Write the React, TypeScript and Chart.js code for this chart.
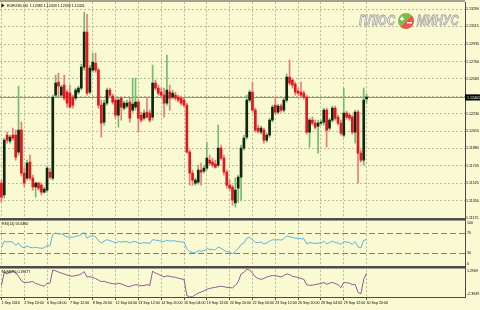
import { useEffect, useRef } from 'react';
import { Chart, registerables } from 'chart.js';

Chart.register(...registerables);

const headerText = 'EURUSD,H4  1.12382 1.12433 1.12339 1.12401';
const timeLabels = ['1 Sep 2016', '2 Sep 20:00', '6 Sep 04:00', '7 Sep 12:00', '8 Sep 20:00', '12 Sep 04:00', '13 Sep 12:00', '14 Sep 20:00', '16 Sep 04:00', '19 Sep 12:00', '20 Sep 20:00', '22 Sep 04:00', '23 Sep 12:00', '26 Sep 20:00', '28 Sep 04:00', '29 Sep 12:00', '30 Sep 20:00'];
const barsPerLabel = 8;
const emptyBarsAfter = 34;

const opens = [
  1.11529, 1.11408, 1.12015, 1.11954, 1.12015, 1.12015, 1.11843, 1.12065, 1.11630, 1.11580,
  1.11742, 1.11580, 1.11489, 1.11529, 1.11509, 1.11438, 1.11458, 1.11640, 1.11580, 1.12420,
  1.12551, 1.12420, 1.12521, 1.12450, 1.12440, 1.12399, 1.12389, 1.12450, 1.12490, 1.12703,
  1.13057, 1.12450, 1.12673, 1.12743, 1.12673, 1.12318, 1.12146, 1.12339, 1.12470, 1.12409,
  1.12369, 1.12217, 1.12389, 1.12288, 1.12308, 1.12349, 1.12268, 1.12298, 1.12349, 1.12217,
  1.12187, 1.12248, 1.12237, 1.12197, 1.12541, 1.12490, 1.12450, 1.12420, 1.12339, 1.12450,
  1.12399, 1.12420, 1.12399, 1.12389, 1.12369, 1.12318, 1.11843, 1.11630, 1.11529, 1.11539,
  1.11661, 1.11650, 1.11681, 1.11762, 1.11742, 1.11721, 1.11711, 1.11883, 1.11782, 1.11640,
  1.11509, 1.11489, 1.11327, 1.11478, 1.11590, 1.11883, 1.11995, 1.12369, 1.12450, 1.12268,
  1.12086, 1.12045, 1.12065, 1.11964, 1.12015, 1.12167, 1.12318, 1.12248, 1.12308, 1.12268,
  1.12369, 1.12602, 1.12571, 1.12531, 1.12460, 1.12450, 1.12440, 1.12399, 1.12045, 1.12167,
  1.12136, 1.12106, 1.12136, 1.12146, 1.12268, 1.12086, 1.12167, 1.12288, 1.12197, 1.12136,
  1.12015, 1.12237, 1.12217, 1.12197, 1.12045, 1.12248, 1.11833, 1.11762, 1.12382,
];
const highs = [
  1.11559, 1.11984, 1.12045, 1.12015, 1.12086, 1.12065, 1.12511, 1.12146, 1.11681, 1.11762,
  1.11812, 1.11610, 1.11539, 1.11539, 1.11529, 1.11489, 1.11701, 1.11681, 1.12420, 1.12622,
  1.12642, 1.12521, 1.12622, 1.12470, 1.12521, 1.12420, 1.12490, 1.12511, 1.12733, 1.13260,
  1.13239, 1.12723, 1.12845, 1.12845, 1.12693, 1.12369, 1.12369, 1.12490, 1.12490, 1.12430,
  1.12399, 1.12399, 1.12399, 1.12359, 1.12369, 1.12389, 1.12592, 1.12592, 1.12369, 1.12248,
  1.12268, 1.12399, 1.12268, 1.12723, 1.12571, 1.12521, 1.12490, 1.12490, 1.12824, 1.12521,
  1.12470, 1.12450, 1.12420, 1.12409, 1.12389, 1.12339, 1.11863, 1.11661, 1.11580, 1.11711,
  1.11731, 1.11711, 1.11944, 1.11812, 1.11782, 1.11762, 1.12116, 1.11914, 1.11812, 1.11661,
  1.11559, 1.11509, 1.11580, 1.11610, 1.11914, 1.12015, 1.12420, 1.12470, 1.12551, 1.12288,
  1.12116, 1.12106, 1.12086, 1.12035, 1.12187, 1.12318, 1.12399, 1.12329, 1.12329, 1.12389,
  1.12632, 1.12774, 1.12592, 1.12551, 1.12490, 1.12551, 1.12460, 1.12420, 1.12187, 1.12197,
  1.12167, 1.12167, 1.12167, 1.12288, 1.12288, 1.12187, 1.12308, 1.12308, 1.12217, 1.12167,
  1.12490, 1.12258, 1.12237, 1.12217, 1.12268, 1.12268, 1.11863, 1.12490, 1.12433,
];
const lows = [
  1.11337, 1.11377, 1.11934, 1.11934, 1.11964, 1.11762, 1.11812, 1.11600, 1.11489, 1.11559,
  1.11559, 1.11458, 1.11387, 1.11458, 1.11408, 1.11428, 1.11438, 1.11570, 1.11559, 1.12399,
  1.12399, 1.12399, 1.12369, 1.12298, 1.12288, 1.12288, 1.12369, 1.12430, 1.12470, 1.12673,
  1.12420, 1.12430, 1.12652, 1.12652, 1.12288, 1.11995, 1.12116, 1.12318, 1.12399, 1.12329,
  1.12187, 1.12096, 1.12167, 1.12268, 1.12288, 1.12146, 1.12248, 1.12268, 1.12045, 1.12146,
  1.12167, 1.12187, 1.12146, 1.12167, 1.12470, 1.12420, 1.12399, 1.12197, 1.12318, 1.12268,
  1.12379, 1.12369, 1.12349, 1.12318, 1.12298, 1.11833, 1.11509, 1.11509, 1.11509, 1.11519,
  1.11509, 1.11630, 1.11661, 1.11711, 1.11691, 1.11681, 1.11691, 1.11762, 1.11610, 1.11478,
  1.11458, 1.11306, 1.11286, 1.11337, 1.11357, 1.11863, 1.11974, 1.12349, 1.12248, 1.12045,
  1.12035, 1.12025, 1.11934, 1.11944, 1.11995, 1.12146, 1.12227, 1.12227, 1.12248, 1.12248,
  1.12349, 1.12521, 1.12490, 1.12420, 1.12420, 1.12399, 1.12379, 1.12025, 1.11893, 1.12116,
  1.12076, 1.11833, 1.12116, 1.12116, 1.11893, 1.12065, 1.12146, 1.12167, 1.12116, 1.12015,
  1.11995, 1.12177, 1.12167, 1.12025, 1.11934, 1.11529, 1.11742, 1.11711, 1.12339,
];
const closes = [
  1.11387, 1.11964, 1.11964, 1.11995, 1.11984, 1.11792, 1.12065, 1.11630, 1.11529, 1.11731,
  1.11580, 1.11489, 1.11529, 1.11478, 1.11438, 1.11468, 1.11681, 1.11590, 1.12399, 1.12541,
  1.12511, 1.12501, 1.12389, 1.12339, 1.12298, 1.12318, 1.12470, 1.12490, 1.12703, 1.13057,
  1.12440, 1.12693, 1.12754, 1.12673, 1.12318, 1.12136, 1.12339, 1.12470, 1.12420, 1.12349,
  1.12217, 1.12369, 1.12298, 1.12339, 1.12339, 1.12187, 1.12329, 1.12349, 1.12187, 1.12167,
  1.12237, 1.12197, 1.12167, 1.12541, 1.12490, 1.12440, 1.12420, 1.12339, 1.12470, 1.12389,
  1.12440, 1.12389, 1.12369, 1.12339, 1.12318, 1.11843, 1.11630, 1.11559, 1.11559, 1.11661,
  1.11640, 1.11681, 1.11782, 1.11731, 1.11711, 1.11691, 1.11883, 1.11782, 1.11640, 1.11509,
  1.11478, 1.11357, 1.11458, 1.11590, 1.11883, 1.11984, 1.12369, 1.12450, 1.12268, 1.12065,
  1.12055, 1.12086, 1.11964, 1.12015, 1.12167, 1.12298, 1.12248, 1.12308, 1.12268, 1.12369,
  1.12602, 1.12541, 1.12521, 1.12450, 1.12440, 1.12420, 1.12399, 1.12045, 1.12167, 1.12136,
  1.12096, 1.12136, 1.12146, 1.12268, 1.12065, 1.12167, 1.12288, 1.12187, 1.12136, 1.12035,
  1.12237, 1.12197, 1.12187, 1.12045, 1.12248, 1.11833, 1.11762, 1.12369, 1.12401,
];
const bidPrice = 1.12401;
const priceMin = 1.11165;
const priceMax = 1.13361;
const priceTicks = [1.11175, 1.11350, 1.11525, 1.11705, 1.11880, 1.12055, 1.12230, 1.12410, 1.12585, 1.12760, 1.12935, 1.13115, 1.13290];

const rsiLabel = 'RSI(14) 56.6360';
const rsiValues = [
  41, 54, 52, 53, 52, 45, 50, 42, 40, 44,
  41, 40, 41, 40, 39, 40, 45, 44, 68, 71,
  69, 69, 66, 63, 62, 62, 64, 65, 68, 72,
  60, 64, 65, 63, 55, 50, 54, 57, 55, 53,
  50, 53, 52, 53, 53, 50, 53, 53, 50, 49,
  51, 50, 49, 57, 56, 55, 54, 53, 56, 54,
  55, 54, 53, 52, 52, 38, 32, 30, 30, 34,
  33, 34, 38, 37, 36, 36, 42, 39, 35, 32,
  31, 28, 33, 38, 47, 50, 60, 62, 57, 51,
  51, 52, 48, 50, 54, 57, 56, 57, 56, 59,
  65, 63, 62, 60, 60, 59, 59, 48, 51, 50,
  49, 50, 50, 54, 48, 51, 54, 51, 50, 47,
  53, 52, 51, 47, 53, 42, 40, 56, 56.636,
];
const rsiLevels = [70, 30];
const rsiAxisLabels = ['100', '70', '30', '0'];

const momLabel = 'MoM(25) 0.19477';
const momMin = -2.5;
const momMax = 1.4;
const momAxisLabels = ['1.2909', '-2.3949'];
const momValues = [
  -1.0, 0.7, 0.5, 0.75, 0.85, 0.7, 0.2, -0.4, -0.6, -0.6,
  -0.55, -0.48, -0.75, -0.85, -1.0, -1.1, -0.75, -0.7, 1.0, 0.9,
  0.75, 0.6, 0.5, 0.35, 0.25, 0.2, 0.3, 0.35, 0.5, 0.8,
  0.1, 0.15, 0.05, -0.1, -0.3, -0.5, -0.45, -0.6, -0.7, -0.75,
  -0.85, -0.7, -0.8, -0.95, -1.1, -1.15, -1.0, -0.9, -0.95, -1.05,
  -1.0, -0.9, -1.0, 0.86, 0.6, 0.45, 0.3, 0.1, 0.25, 0.19,
  0.1, 0.06, -0.05, -0.15, -0.2, -2.3, -2.5, -2.45, -2.2, -2.0,
  -1.85, -1.7, -1.5, -1.4, -1.3, -1.25, -1.16, -1.1, -1.16, -1.25,
  -1.3, -1.3, -1.0, -0.5, 0.5, 0.7, 1.1, 1.0, 0.6, 0.1,
  -0.1, -0.2, -0.1, 0.1, 0.2, 0.3, 0.25, 0.2, 0.1, 0.3,
  0.5, 0.4, 0.2, 0.1, 0.05, -0.1, -0.2, -0.9, -1.0, -0.95,
  -0.9, -0.8, -0.75, -0.6, -0.85, -0.7, -0.6, -0.75, -0.9, -1.29,
  -0.62, -0.65, -0.7, -0.9, -0.85, -1.9, -2.1, -0.2, 0.59,
];

const BG = '#FAFAD2';
const GRID = '#B9B9A2';
const FRAME = '#4A4A4A';
const FONT = "'Liberation Sans', Arial, sans-serif";
const SMALL = 3.6;

export default function App() {
  const ref = useRef<HTMLCanvasElement>(null);

  useEffect(() => {
    document.body.style.margin = '0';
    document.body.style.background = BG;
    const canvas = ref.current;
    if (!canvas) return;
    const n = closes.length;
    const total = n + emptyBarsAfter;
    const labels = Array.from({ length: total }, (_, i) =>
      i % barsPerLabel === 0 && i / barsPerLabel < timeLabels.length ? timeLabels[i / barsPerLabel] : ''
    );
    const up = closes.map((c, i) => c >= opens[i]);
    const bodies = opens.map((o, i) => [Math.min(o, closes[i]), Math.max(o, closes[i])]);
    const wicks = lows.map((l, i) => [l, highs[i]]);

    const overlay = {
      id: 'mt4overlay',
      beforeDraw(chart: any) {
        const { ctx, width, height } = chart;
        ctx.save();
        ctx.fillStyle = BG;
        ctx.fillRect(0, 0, width, height);
        ctx.restore();
      },
      beforeDatasetsDraw(chart: any) {
        const { ctx, chartArea: ca, scales } = chart;
        ctx.save();
        // watermark
        ctx.save();
        ctx.translate(359, 21);
        ctx.scale(0.76, 1);
        ctx.font = `italic bold 15px ${FONT}`;
        ctx.textBaseline = 'middle';
        ctx.textAlign = 'left';
        ctx.lineWidth = 0.8;
        ctx.fillStyle = '#E2E2DC';
        ctx.strokeStyle = '#A4A4A0';
        ctx.fillText('ПЛЮС', 0, 0);
        ctx.strokeText('ПЛЮС', 0, 0);
        ctx.fillText('МИНУС', 76, 0);
        ctx.strokeText('МИНУС', 76, 0);
        ctx.restore();
        const cx = 406, cy = 21, r = 8;
        ctx.fillStyle = '#78C043';
        ctx.beginPath();
        ctx.arc(cx, cy, r, Math.PI * 0.75, Math.PI * 1.75);
        ctx.closePath();
        ctx.fill();
        ctx.fillStyle = '#E9574B';
        ctx.beginPath();
        ctx.arc(cx, cy, r, Math.PI * 1.75, Math.PI * 2.75);
        ctx.closePath();
        ctx.fill();
        ctx.fillStyle = '#FFFFFF';
        ctx.fillRect(cx - 6, cy - 3, 4, 1.5);
        ctx.fillRect(cx - 4.75, cy - 4.25, 1.5, 4);
        ctx.fillRect(cx + 1, cy + 1, 5, 1.5);
        // bid line
        const yb = Math.round(scales.y.getPixelForValue(bidPrice)) + 0.5;
        ctx.strokeStyle = '#8194B4';
        ctx.lineWidth = 1;
        ctx.beginPath();
        ctx.moveTo(ca.left, yb);
        ctx.lineTo(ca.right, yb);
        ctx.stroke();
        // rsi levels
        ctx.strokeStyle = '#7380A6';
        ctx.setLineDash([6, 3]);
        rsiLevels.forEach((v) => {
          const yy = Math.round(scales.yRsi.getPixelForValue(v)) + 0.5;
          ctx.beginPath();
          ctx.moveTo(ca.left, yy);
          ctx.lineTo(ca.right, yy);
          ctx.stroke();
        });
        ctx.restore();
      },
      afterDraw(chart: any) {
        const { ctx, chartArea: ca, scales } = chart;
        ctx.save();
        ctx.fillStyle = FRAME;
        ctx.fillRect(0, 0.5, ca.right, 1);
        ctx.fillRect(0, scales.y.bottom - 1, ca.right, 2.5);
        ctx.fillRect(0, scales.yRsi.bottom - 1, ca.right, 2.5);
        ctx.font = `${SMALL}px ${FONT}`;
        ctx.textBaseline = 'middle';
        ctx.textAlign = 'left';
        ctx.fillStyle = '#000';
        // header
        ctx.beginPath();
        ctx.moveTo(1.5, 3.5);
        ctx.lineTo(4.5, 5.5);
        ctx.lineTo(1.5, 7.5);
        ctx.closePath();
        ctx.fill();
        ctx.fillText(headerText, 7, 5.5);
        ctx.fillText(rsiLabel, 2, scales.yRsi.top + 5);
        ctx.fillText(momLabel, 2, scales.yMom.top + 5);
        // sub-pane axis labels
        const ax = ca.right + 2;
        ctx.fillText(rsiAxisLabels[0], ax, scales.yRsi.top + 4);
        ctx.fillText(rsiAxisLabels[1], ax, scales.yRsi.getPixelForValue(70));
        ctx.fillText(rsiAxisLabels[2], ax, scales.yRsi.getPixelForValue(30));
        ctx.fillText(rsiAxisLabels[3], ax, scales.yRsi.bottom - 3);
        ctx.fillText(momAxisLabels[0], ax, scales.yMom.top + 4);
        ctx.fillText(momAxisLabels[1], ax, scales.yMom.bottom - 3);
        // bid tag
        const yb = Math.round(scales.y.getPixelForValue(bidPrice)) + 0.5;
        ctx.fillStyle = '#000';
        ctx.fillRect(ca.right, yb - 3, 15, 6);
        ctx.fillStyle = '#FFF';
        ctx.fillText(bidPrice.toFixed(5), ax, yb);
        ctx.restore();
      },
    };

    const chart = new Chart(canvas, {
      type: 'bar',
      data: {
        labels,
        datasets: [
          {
            type: 'bar',
            data: wicks as any,
            backgroundColor: up.map((u) => (u ? '#72BC6E' : '#EE7B78')),
            barThickness: 1,
            grouped: false,
            yAxisID: 'y',
            order: 3,
          },
          {
            type: 'bar',
            data: bodies as any,
            backgroundColor: up.map((u) => (u ? '#112611' : '#E3161B')),
            barThickness: 2,
            grouped: false,
            yAxisID: 'y',
            order: 2,
          },
          {
            type: 'line',
            data: rsiValues,
            yAxisID: 'yRsi',
            borderColor: '#5BB2E6',
            borderWidth: 1,
            pointRadius: 0,
            order: 1,
          },
          {
            type: 'line',
            data: momValues,
            yAxisID: 'yMom',
            borderColor: '#8C5C96',
            borderWidth: 1,
            pointRadius: 0,
            order: 1,
          },
        ],
      },
      options: {
        responsive: false,
        animation: false,
        devicePixelRatio: 1,
        layout: { padding: { top: 2, left: 0, right: 0, bottom: 0 } },
        plugins: { legend: { display: false }, tooltip: { enabled: false } },
        scales: {
          x: {
            type: 'category',
            offset: true,
            afterBuildTicks: (s: any) => {
              s.ticks = s.ticks.filter((t: any) => t.value % barsPerLabel === 0 && t.value / barsPerLabel < timeLabels.length);
            },
            afterFit: (s: any) => {
              s.height = 13;
            },
            ticks: { autoSkip: false, maxRotation: 0, minRotation: 0, align: 'start', font: { family: FONT, size: SMALL }, color: '#000', padding: 1 },
            grid: { offset: false, color: GRID, drawTicks: true, tickLength: 3, tickColor: '#555' },
            border: { display: true, color: FRAME, dash: [2, 2] },
          },
          y: {
            type: 'linear',
            position: 'right',
            stack: 'pane',
            stackWeight: 217,
            weight: 1,
            min: priceMin,
            max: priceMax,
            afterBuildTicks: (s: any) => {
              s.ticks = priceTicks.map((v) => ({ value: v }));
            },
            afterFit: (s: any) => {
              s.width = 15;
            },
            ticks: { callback: (v: any) => Number(v).toFixed(5), font: { family: FONT, size: SMALL }, color: '#000', padding: 0 },
            grid: { color: GRID, drawTicks: true, tickLength: 1, tickColor: '#555' },
            border: { display: true, color: FRAME, dash: [2, 2] },
          },
          yRsi: {
            type: 'linear',
            position: 'right',
            stack: 'pane',
            stackWeight: 48,
            weight: 2,
            min: 0,
            max: 100,
            afterFit: (s: any) => {
              s.width = 15;
            },
            ticks: { display: false },
            grid: { display: false },
            border: { display: true, color: FRAME },
          },
          yMom: {
            type: 'linear',
            position: 'right',
            stack: 'pane',
            stackWeight: 30,
            weight: 3,
            min: momMin,
            max: momMax,
            afterFit: (s: any) => {
              s.width = 15;
            },
            ticks: { display: false },
            grid: { display: false },
            border: { display: true, color: FRAME },
          },
        },
      },
      plugins: [overlay],
    } as any);

    return () => chart.destroy();
  }, []);

  return <canvas ref={ref} width={480} height={310} style={{ display: 'block' }} />;
}
